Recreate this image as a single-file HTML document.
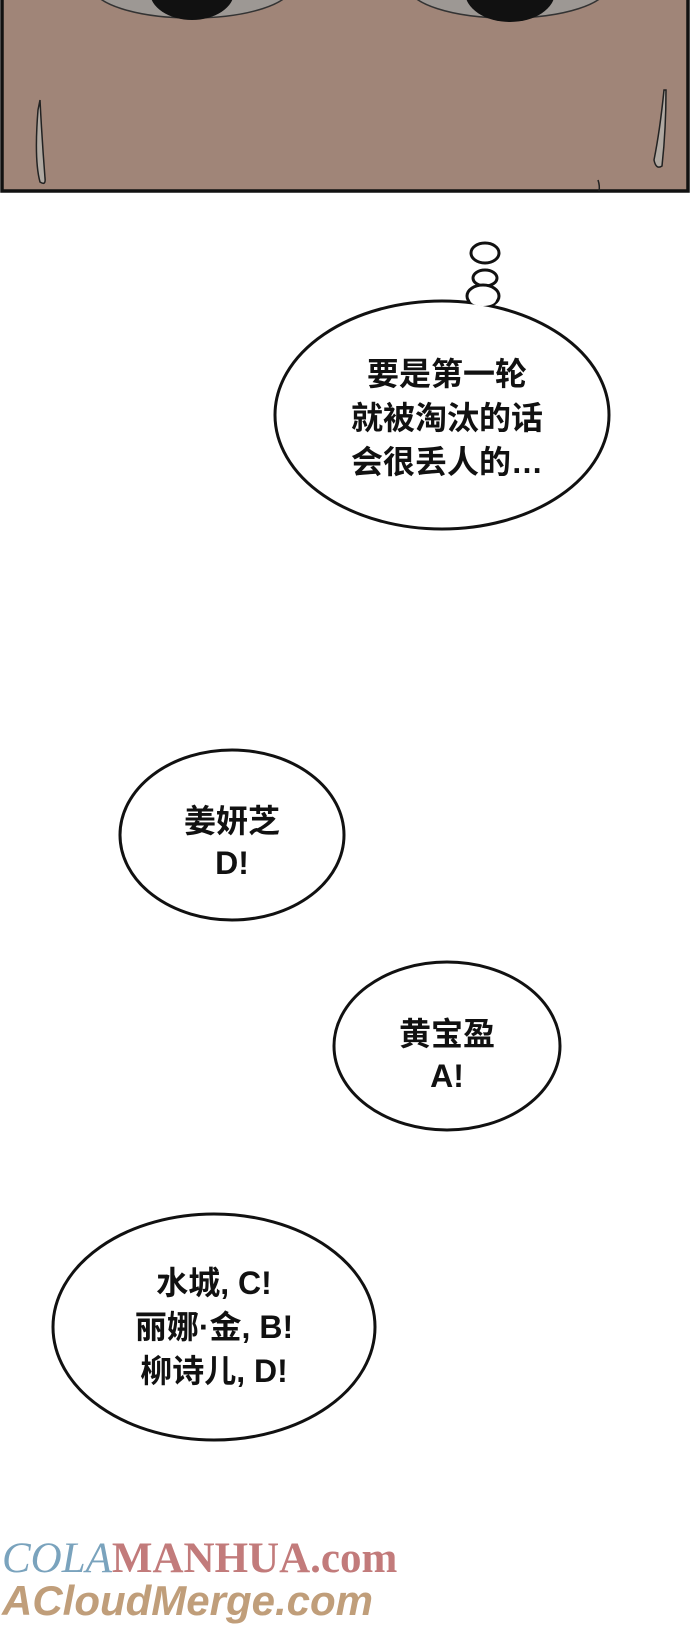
<!DOCTYPE html>
<html><head><meta charset="utf-8"><style>
html,body{margin:0;padding:0;background:#fff;}
body{width:690px;height:1628px;position:relative;overflow:hidden;font-family:"Liberation Sans","Noto Sans CJK SC",sans-serif;}
.t{position:absolute;font-weight:bold;font-size:32px;color:#111;text-align:center;line-height:44px;white-space:nowrap;}
</style></head><body>
<svg width="690" height="1628" style="position:absolute;left:0;top:0">
<rect x="2" y="-5" width="686" height="196" fill="#a08578" stroke="#111" stroke-width="3.5"/>
<ellipse cx="192" cy="-14" rx="100" ry="32" fill="#9d9894" stroke="#333" stroke-width="1.5"/>
<ellipse cx="192" cy="-8" rx="42" ry="28" fill="#111"/>
<ellipse cx="508" cy="-14" rx="100" ry="32" fill="#9d9894" stroke="#333" stroke-width="1.5"/>
<ellipse cx="510" cy="-8" rx="45" ry="30" fill="#111"/>
<path d="M38 110 Q34 160 40 182 Q46 186 45 178 Q42 140 40 100 Z" fill="#b0a9a2" stroke="#222" stroke-width="1.5"/>
<path d="M664 90 Q660 130 654 160 Q656 170 662 166 Q666 130 666 90 Z" fill="#b0a9a2" stroke="#222" stroke-width="1.5"/>
<path d="M598 180 Q600 186 599 191" stroke="#222" stroke-width="1.5" fill="none"/>
<ellipse cx="485" cy="253" rx="14" ry="10" fill="#fff" stroke="#111" stroke-width="3"/>
<ellipse cx="485" cy="278" rx="12" ry="8" fill="#fff" stroke="#111" stroke-width="3"/>
<ellipse cx="483" cy="296" rx="16" ry="11" fill="#fff" stroke="#111" stroke-width="3"/>
<ellipse cx="442" cy="415" rx="167" ry="114" fill="#fff" stroke="#111" stroke-width="3"/>
<ellipse cx="483" cy="300" rx="13" ry="6" fill="#fff"/>
<ellipse cx="232" cy="835" rx="112" ry="85" fill="#fff" stroke="#111" stroke-width="3"/>
<ellipse cx="447" cy="1046" rx="113" ry="84" fill="#fff" stroke="#111" stroke-width="3"/>
<ellipse cx="214" cy="1327" rx="161" ry="113" fill="#fff" stroke="#111" stroke-width="3"/>
</svg>
<div class="t" style="left:292px;width:310px;top:352px;">要是第一轮<br>就被淘汰的话<br>会很丢人的…</div>
<div class="t" style="left:132px;width:200px;top:800px;line-height:42px;">姜妍芝<br>D!</div>
<div class="t" style="left:347px;width:200px;top:1013px;line-height:42px;">黄宝盈<br>A!</div>
<div class="t" style="left:64px;width:300px;top:1261px;">水城, C!<br>丽娜·金, B!<br>柳诗儿, D!</div>
<div style="position:absolute;left:2px;top:1536px;font-family:'Liberation Serif',serif;font-size:43px;line-height:46px;white-space:nowrap;"><span style="color:#7aa3bd;font-style:italic;">COLA</span><span style="color:#c27b7b;font-weight:bold;">MANHUA.com</span></div>
<div style="position:absolute;left:2px;top:1578px;font-family:'Liberation Sans',sans-serif;font-weight:bold;font-size:42px;line-height:46px;color:#c09e7a;white-space:nowrap;font-style:italic;">ACloudMerge.com</div>
</body></html>
